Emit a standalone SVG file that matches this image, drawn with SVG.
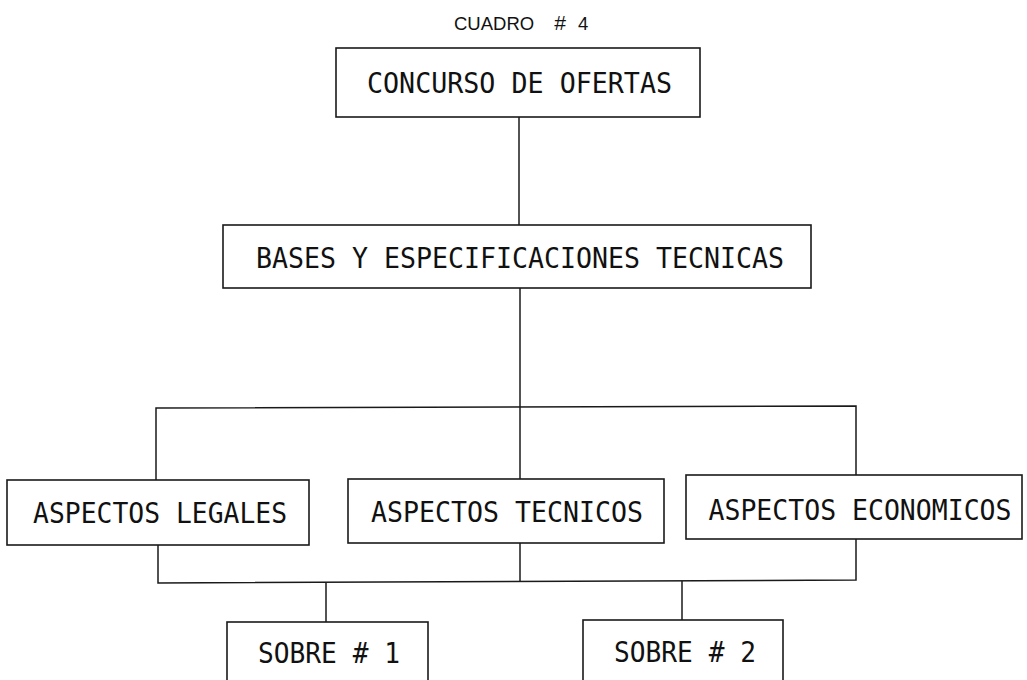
<svg xmlns="http://www.w3.org/2000/svg" width="1027" height="680" viewBox="0 0 1027 680">
<style>
.box{fill:#fff;stroke:#1a1a1a;stroke-width:1.6}
.lbl{font-family:"DejaVu Sans Mono","Liberation Mono",monospace;font-size:28px;fill:#111;text-anchor:middle}
.ttl{font-family:"Liberation Sans",Arial,sans-serif;font-size:18.5px;fill:#111}
.con{fill:none;stroke:#1a1a1a;stroke-width:1.5}
</style>
<rect width="1027" height="680" fill="#fff"/>
<text class="ttl" x="454" y="30">CUADRO<tspan x="554" font-size="21" font-style="italic">#</tspan><tspan x="578">4</tspan></text>
<g id="connectors">
<line class="con" x1="519" y1="117" x2="519" y2="225"/>
<line class="con" x1="520" y1="288" x2="520" y2="407"/>
<polyline class="con" points="156,480 156,408 856,406 856,475"/>
<line class="con" x1="520" y1="407" x2="520" y2="479"/>
<polyline class="con" points="158,545 158,583 856,580 856,539"/>
<line class="con" x1="520" y1="543" x2="520" y2="582"/>
<line class="con" x1="326" y1="583" x2="326" y2="622"/>
<line class="con" x1="682" y1="581" x2="682" y2="620"/>
</g>
<g id="concurso">
<rect class="box" x="336" y="48" width="364" height="69"/>
<text class="lbl" x="519.5" y="93" textLength="305" lengthAdjust="spacingAndGlyphs">CONCURSO DE OFERTAS</text>
</g>
<g id="bases">
<rect class="box" x="223" y="225" width="588" height="63"/>
<text class="lbl" x="520" y="268" textLength="528" lengthAdjust="spacingAndGlyphs">BASES Y ESPECIFICACIONES TECNICAS</text>
</g>
<g id="legales">
<rect class="box" x="7" y="480" width="302" height="65"/>
<text class="lbl" x="160" y="523" textLength="254" lengthAdjust="spacingAndGlyphs">ASPECTOS LEGALES</text>
</g>
<g id="tecnicos">
<rect class="box" x="348" y="479" width="316" height="64"/>
<text class="lbl" x="507" y="522" textLength="272" lengthAdjust="spacingAndGlyphs">ASPECTOS TECNICOS</text>
</g>
<g id="economicos">
<rect class="box" x="686" y="475" width="336" height="64"/>
<text class="lbl" x="860" y="520" textLength="303" lengthAdjust="spacingAndGlyphs">ASPECTOS ECONOMICOS</text>
</g>
<g id="sobre1">
<rect class="box" x="227" y="622" width="201" height="80"/>
<text class="lbl" x="329" y="663" textLength="142" lengthAdjust="spacingAndGlyphs">SOBRE # 1</text>
</g>
<g id="sobre2">
<rect class="box" x="583" y="620" width="200" height="80"/>
<text class="lbl" x="685" y="662" textLength="142" lengthAdjust="spacingAndGlyphs">SOBRE # 2</text>
</g>
</svg>
